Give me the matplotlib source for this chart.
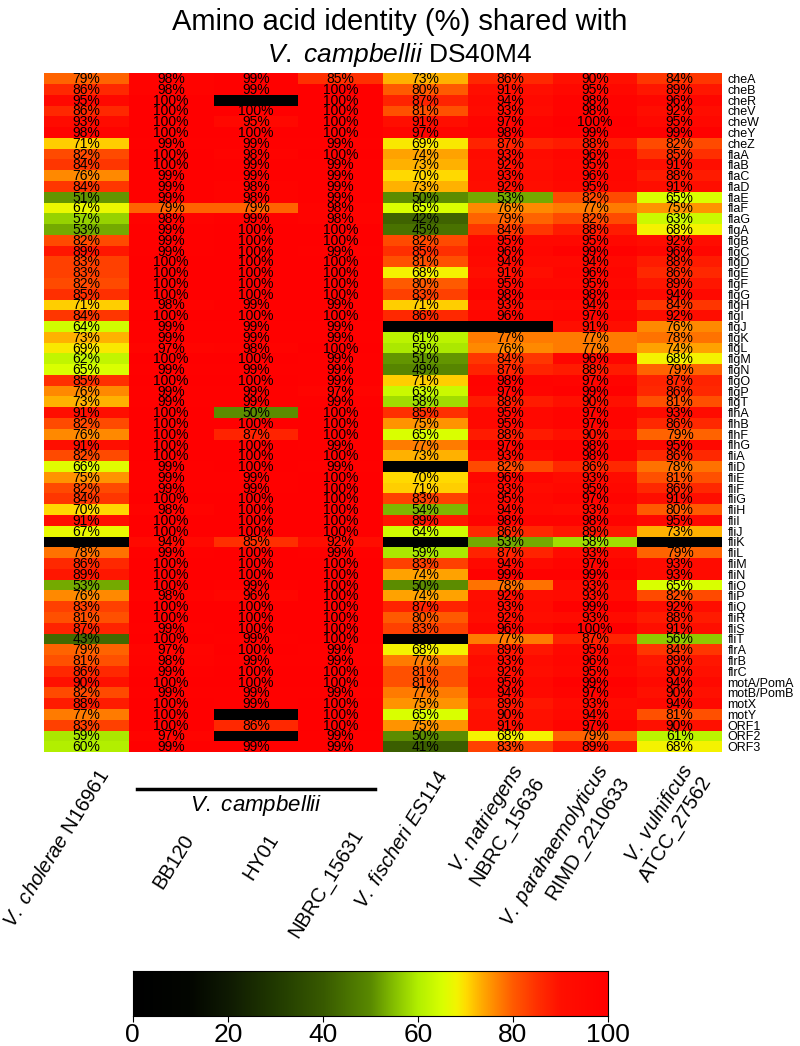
import numpy as np
import matplotlib
matplotlib.use("Agg")
import matplotlib.pyplot as plt
from matplotlib import font_manager
from matplotlib.colors import LinearSegmentedColormap
import matplotlib.transforms as mtransforms

installed = set(f.name for f in font_manager.fontManager.ttflist)
narrow = "Liberation Sans Narrow" if "Liberation Sans Narrow" in installed else "Liberation Sans"

plt.rcParams['font.family'] = ['Liberation Sans', 'DejaVu Sans']
plt.rcParams['mathtext.fontset'] = 'custom'
plt.rcParams['mathtext.it'] = 'Liberation Sans:italic'
plt.rcParams['mathtext.rm'] = 'Liberation Sans'

nan = np.nan

strains = [r"$\it{V.\ cholerae}$ N16961", "BB120", "HY01", "NBRC_15631",
           r"$\it{V.\ fischeri\ ES114}$", "$\\it{V.\\ natriegens}$\nNBRC_15636",
           "$\\it{V.\\ parahaemolyticus}$\nRIMD_2210633", "$\\it{V.\\ vulnificus}$\nATCC_27562"]

genes = ["cheA", "cheB", "cheR", "cheV", "cheW", "cheY", "cheZ",
         "flaA", "flaB", "flaC", "flaD", "flaE", "flaF", "flaG",
         "flgA", "flgB", "flgC", "flgD", "flgE", "flgF", "flgG", "flgH", "flgI",
         "flgJ", "flgK", "flgL", "flgM", "flgN", "flgO", "flgP", "flgT",
         "flhA", "flhB", "flhF", "flhG",
         "fliA", "fliD", "fliE", "fliF", "fliG", "fliH", "fliI", "fliJ", "fliK",
         "fliL", "fliM", "fliN", "fliO", "fliP", "fliQ", "fliR", "fliS", "fliT",
         "flrA", "flrB", "flrC", "motA/PomA", "motB/PomB", "motX", "motY",
         "ORF1", "ORF2", "ORF3"]

identity = [
    [79, 98, 99, 85, 73, 86, 90, 84],
    [86, 98, 99, 100, 80, 91, 95, 89],
    [95, 100, nan, 100, 87, 94, 98, 96],
    [86, 100, 100, 100, 81, 93, 98, 92],
    [93, 100, 95, 100, 91, 97, 100, 95],
    [98, 100, 100, 100, 97, 98, 99, 99],
    [71, 99, 99, 99, 69, 87, 88, 82],
    [82, 100, 98, 100, 74, 93, 96, 85],
    [84, 100, 99, 99, 73, 92, 95, 91],
    [76, 99, 99, 99, 70, 93, 96, 88],
    [84, 99, 98, 99, 73, 92, 95, 91],
    [51, 99, 98, 99, 50, 53, 82, 65],
    [67, 79, 79, 98, 65, 76, 77, 75],
    [57, 98, 99, 98, 42, 79, 82, 63],
    [53, 99, 100, 100, 45, 84, 88, 68],
    [82, 99, 100, 100, 82, 95, 95, 92],
    [89, 99, 100, 99, 85, 96, 99, 96],
    [83, 100, 100, 100, 81, 94, 94, 88],
    [83, 100, 100, 100, 68, 91, 96, 86],
    [82, 100, 100, 100, 80, 95, 95, 89],
    [85, 100, 100, 100, 83, 98, 98, 94],
    [71, 98, 99, 99, 71, 93, 94, 84],
    [84, 100, 100, 100, 86, 96, 97, 92],
    [64, 99, 99, 99, nan, nan, 91, 76],
    [73, 99, 99, 99, 61, 77, 77, 78],
    [69, 97, 98, 100, 59, 76, 77, 74],
    [62, 100, 100, 99, 51, 84, 96, 68],
    [65, 99, 99, 99, 49, 87, 88, 79],
    [85, 100, 100, 99, 71, 98, 97, 87],
    [76, 99, 99, 97, 63, 97, 99, 86],
    [73, 99, 99, 99, 58, 88, 90, 81],
    [91, 100, 50, 100, 85, 95, 97, 93],
    [82, 100, 100, 100, 75, 95, 97, 86],
    [76, 100, 87, 100, 65, 88, 90, 79],
    [91, 100, 100, 99, 77, 97, 98, 95],
    [82, 100, 100, 100, 73, 93, 98, 86],
    [66, 99, 100, 99, nan, 82, 86, 78],
    [75, 99, 99, 100, 70, 96, 93, 81],
    [82, 99, 99, 100, 71, 93, 95, 86],
    [84, 100, 100, 100, 83, 95, 97, 91],
    [70, 98, 100, 100, 54, 94, 93, 80],
    [91, 100, 100, 100, 89, 98, 98, 95],
    [67, 100, 100, 100, 64, 86, 89, 73],
    [nan, 94, 85, 92, nan, 53, 58, nan],
    [78, 99, 100, 99, 59, 87, 93, 79],
    [86, 100, 100, 100, 83, 94, 97, 93],
    [89, 100, 100, 100, 74, 99, 99, 93],
    [53, 100, 99, 100, 50, 78, 93, 65],
    [76, 98, 96, 100, 74, 92, 93, 82],
    [83, 100, 100, 100, 87, 93, 99, 92],
    [81, 100, 100, 100, 80, 92, 93, 88],
    [87, 99, 100, 100, 83, 96, 100, 91],
    [43, 100, 99, 100, nan, 77, 87, 56],
    [79, 97, 100, 99, 68, 89, 95, 84],
    [81, 98, 99, 99, 77, 93, 96, 89],
    [86, 99, 100, 100, 81, 92, 95, 90],
    [90, 100, 100, 100, 81, 95, 99, 94],
    [82, 99, 99, 99, 77, 94, 97, 90],
    [88, 100, 99, 100, 75, 89, 93, 94],
    [77, 100, nan, 100, 65, 90, 94, 81],
    [83, 100, 86, 100, 75, 91, 97, 90],
    [59, 97, nan, 99, 50, 68, 79, 61],
    [60, 99, 99, 99, 41, 83, 89, 68],
]

data = np.array(identity, dtype=float)

cmap = LinearSegmentedColormap.from_list("aai", [
    (0.00, "#000000"), (0.12, "#030600"), (0.20, "#0f1a03"), (0.30, "#213a00"),
    (0.40, "#385a00"), (0.50, "#5a8a00"), (0.55, "#86c000"), (0.60, "#b2ef00"),
    (0.65, "#d8ff00"), (0.68, "#f2f500"), (0.70, "#ffdc00"), (0.73, "#ffb000"),
    (0.76, "#ff8a00"), (0.80, "#ff5a00"), (0.85, "#ff3000"), (0.90, "#ff1000"),
    (1.00, "#ff0000")])
cmap.set_bad("black")

fig = plt.figure(figsize=(8, 10.46), dpi=100)

ax = fig.add_axes([0.055, 0.281, 0.8475, 0.649])
masked = np.ma.masked_invalid(data)
ax.pcolormesh(masked, cmap=cmap, vmin=0, vmax=100)
ax.set_xlim(0, data.shape[1])
ax.set_ylim(data.shape[0], 0)
for i in range(data.shape[0]):
    for j in range(data.shape[1]):
        if not np.isnan(data[i, j]):
            ax.text(j + 0.5, i + 0.55, "%d%%" % data[i, j], ha="center", va="center",
                    fontsize=10, color="black", family=narrow)

ax.set_xticks([])
ax.yaxis.tick_right()
ax.set_yticks(np.arange(len(genes)) + 0.5)
ax.set_yticklabels(genes, fontsize=9, family=narrow)
ax.tick_params(axis="y", length=0, pad=4)
for s in ax.spines.values():
    s.set_visible(False)

fig.text(0.5, 0.979, "Amino acid identity (%) shared with", ha="center", va="center",
         fontsize=21, family=narrow)
fig.text(0.5, 0.947, r"$\it{V.\ campbellii}$ DS40M4", ha="center", va="center", fontsize=19)

# column labels
trans = mtransforms.blended_transform_factory(ax.transData, fig.transFigure)
label_y = [0.262, 0.201, 0.201, 0.206, 0.262, 0.262, 0.262, 0.262]
for j, lab in enumerate(strains):
    ax.text(j + 0.72, label_y[j], lab, transform=trans, rotation=58,
            rotation_mode="anchor", ha="right", va="center", multialignment="right",
            fontsize=14.5, clip_on=False)

# V. campbellii bracket
ax.plot([1.1, 3.9], [0.246, 0.246], transform=trans, color="black", lw=2.5, clip_on=False)
ax.text(2.5, 0.230, r"$\it{V.\ campbellii}$", transform=trans, ha="center", va="center",
        fontsize=16)

cax = fig.add_axes([0.166, 0.029, 0.594, 0.043])
grad = np.linspace(0, 100, 256).reshape(1, -1)
cax.imshow(grad, aspect="auto", cmap=cmap, extent=[0, 100, 0, 1])
cax.set_yticks([])
cax.set_xticks([0, 20, 40, 60, 80, 100])
cax.tick_params(axis="x", labelsize=19, length=4, pad=1)
for s in cax.spines.values():
    s.set_linewidth(0.8)

fig.savefig("out.png", dpi=100)
